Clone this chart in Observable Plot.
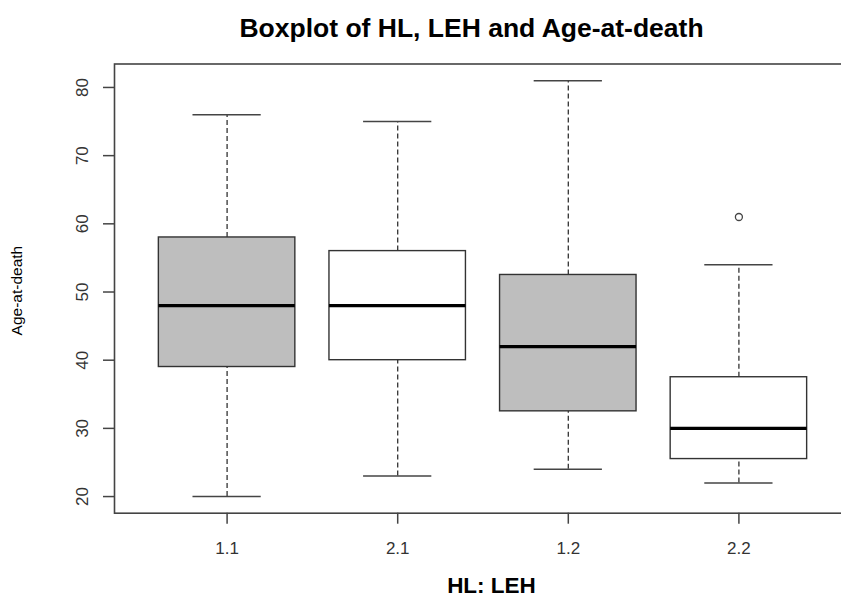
<!DOCTYPE html>
<html><head><meta charset="utf-8">
<script src="https://cdn.jsdelivr.net/npm/d3@7"></script>
<script src="https://cdn.jsdelivr.net/npm/@observablehq/plot@0.6"></script>
<style>html,body{margin:0;padding:0;overflow:hidden;background:#fff}</style>
</head><body><div id="chart"></div>
<script>
const groups = ["1.1", "2.1", "1.2", "2.2"];
const lowerWhisker = [20, 23, 24, 22];
const q1 = [39, 40, 32.5, 25.5];
const medians = [48, 48, 42, 30];
const q3 = [58, 56, 52.5, 37.5];
const upperWhisker = [76, 75, 81, 54];
const outlierGroups = ["2.2"];
const outlierValues = [61];
const fills = ["#bebebe", "#ffffff", "#bebebe", "#ffffff"];
const yTicks = [20, 30, 40, 50, 60, 70, 80];

const boxes = groups.map((g, i) => ({g, pos: i + 1, lo: lowerWhisker[i], q1: q1[i], med: medians[i], q3: q3[i], hi: upperWhisker[i], fill: fills[i]}));
const outliers = outlierGroups.map((g, i) => ({pos: groups.indexOf(g) + 1, value: outlierValues[i]}));

const font = "'Liberation Sans', Arial, sans-serif";
const ink = "#444";

const chart = Plot.plot({
  width: 841, height: 603,
  marginLeft: 114, marginRight: -10, marginTop: 63.5, marginBottom: 90.3,
  style: {fontFamily: font, background: "#fff", overflow: "hidden"},
  x: {type: "linear", domain: [0.34, 4.66]},
  y: {domain: [17.56, 83.44]},
  color: {type: "identity"},
  marks: [
    Plot.ruleX(boxes, {x: "pos", y1: "q3", y2: "hi", stroke: "#333", strokeWidth: 1.3, strokeDasharray: "5,3"}),
    Plot.ruleX(boxes, {x: "pos", y1: "lo", y2: "q1", stroke: "#333", strokeWidth: 1.3, strokeDasharray: "5,3"}),
    Plot.ruleY(boxes, {y: "hi", x1: d => d.pos - 0.2, x2: d => d.pos + 0.2, stroke: ink, strokeWidth: 1.5}),
    Plot.ruleY(boxes, {y: "lo", x1: d => d.pos - 0.2, x2: d => d.pos + 0.2, stroke: ink, strokeWidth: 1.5}),
    Plot.rect(boxes, {x1: d => d.pos - 0.4, x2: d => d.pos + 0.4, y1: "q1", y2: "q3", fill: "fill", stroke: "#333", strokeWidth: 1.4}),
    Plot.ruleY(boxes, {y: "med", x1: d => d.pos - 0.4, x2: d => d.pos + 0.4, stroke: "#000", strokeWidth: 3.2}),
    Plot.dot(outliers, {x: "pos", y: "value", r: 3.5, stroke: ink, strokeWidth: 1.3, fill: "none"}),
    Plot.frame({stroke: ink, strokeWidth: 1.6}),
    Plot.axisY({ticks: yTicks, tickSize: 11, tickPadding: 16, tickRotate: -90, fontSize: 17, stroke: ink, strokeWidth: 1.5, color: "#333", label: null}),
    Plot.axisX({ticks: [1, 2, 3, 4], tickFormat: d => groups[d - 1], tickSize: 11, tickPadding: 18, fontSize: 17, stroke: ink, strokeWidth: 1.5, color: "#333", label: null}),
    Plot.text(["Boxplot of HL, LEH and Age-at-death"], {frameAnchor: "top", dx: -11.5, dy: -35.5, lineAnchor: "middle", textAnchor: "middle", fontSize: 26.5, fontWeight: "bold", fill: "#000"}),
    Plot.text(["HL: LEH"], {frameAnchor: "bottom", dx: 8.5, dy: 73, lineAnchor: "middle", textAnchor: "middle", fontSize: 22.5, fontWeight: "bold", fill: "#000"}),
    Plot.text(["Age-at-death"], {frameAnchor: "left", dx: -97, dy: 2, rotate: -90, lineAnchor: "middle", textAnchor: "middle", fontSize: 15.5, fill: "#000"})
  ]
});
document.getElementById("chart").appendChild(chart);
</script>
</body></html>
